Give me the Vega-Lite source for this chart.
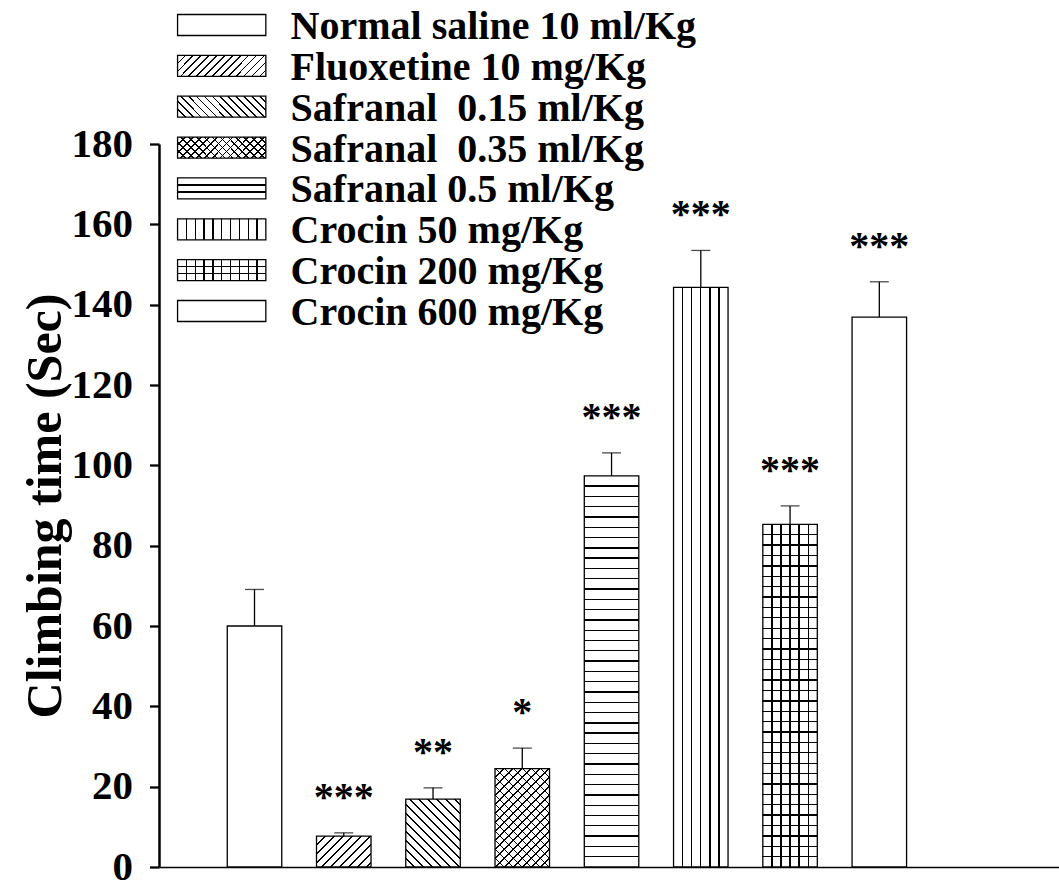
{
  "$schema": "https://vega.github.io/schema/vega-lite/v6.json",
  "width": 900,
  "height": 723,
  "autosize": {"type": "none"},
  "padding": {"left": 159, "top": 144, "right": 0, "bottom": 17},
  "background": "white",
  "config": {"view": {"stroke": null}, "font": "Liberation Serif"},
  "data": {
    "values": [
      {"pos": 1, "label": "Normal saline 10 ml/Kg", "mean": 60, "upper": 69.1, "sig": ""},
      {"pos": 2, "label": "Fluoxetine 10 mg/Kg", "mean": 7.7, "upper": 8.5, "sig": "***"},
      {"pos": 3, "label": "Safranal\u00a0 0.15 ml/Kg", "mean": 16.9, "upper": 19.7, "sig": "**"},
      {"pos": 4, "label": "Safranal\u00a0 0.35 ml/Kg", "mean": 24.5, "upper": 29.6, "sig": "*"},
      {"pos": 5, "label": "Safranal 0.5 ml/Kg", "mean": 97.4, "upper": 103.1, "sig": "***"},
      {"pos": 6, "label": "Crocin 50 mg/Kg", "mean": 144.3, "upper": 153.5, "sig": "***"},
      {"pos": 7, "label": "Crocin 200 mg/Kg", "mean": 85.3, "upper": 89.9, "sig": "***"},
      {"pos": 8, "label": "Crocin 600 mg/Kg", "mean": 136.9, "upper": 145.7, "sig": "***"}
    ]
  },
  "layer": [
    {
      "encoding": {
        "x": {
          "field": "pos", "type": "quantitative",
          "scale": {"domain": [-0.014, 9.957], "nice": false, "zero": false},
          "axis": {"title": null, "labels": false, "ticks": false, "grid": false, "domainColor": "black", "domainWidth": 1.7}
        },
        "y": {
          "field": "mean", "type": "quantitative",
          "scale": {"domain": [0, 180], "nice": false},
          "axis": {
            "values": [0, 20, 40, 60, 80, 100, 120, 140, 160, 180],
            "grid": false, "labelFlush": false, "labelOverlap": false,
            "domainColor": "black", "domainWidth": 2.5,
            "tickColor": "black", "tickWidth": 2.3, "tickSize": 9.5,
            "labelFont": "Liberation Serif", "labelFontWeight": "bold", "labelFontSize": 41, "labelColor": "black", "labelPadding": 17,
            "title": "Climbing time (Sec)", "titleFont": "Liberation Serif", "titleFontWeight": "bold", "titleFontSize": 50, "titleColor": "black",
            "titleX": -89
          }
        }
      },
      "layer": [
        {"mark": {"type": "bar", "orient": "vertical", "width": 54.5, "fill": "white", "stroke": "black", "strokeWidth": 1.3}},
        {
          "mark": {"type": "bar", "orient": "vertical", "width": 54.5, "strokeWidth": 0},
          "encoding": {
            "fill": {
              "condition": [
                {"test": "datum.pos === 2", "value": {"gradient": "linear", "x1": 0, "y1": 0, "x2": 1.1858, "y2": 0.6723, "stops": [
                  {"offset": 0.0954, "color": "transparent"}, {"offset": 0.0954, "color": "black"}, {"offset": 0.1154, "color": "black"}, {"offset": 0.1154, "color": "transparent"},
                  {"offset": 0.2008, "color": "transparent"}, {"offset": 0.2008, "color": "black"}, {"offset": 0.2208, "color": "black"}, {"offset": 0.2208, "color": "transparent"},
                  {"offset": 0.3062, "color": "transparent"}, {"offset": 0.3062, "color": "black"}, {"offset": 0.3262, "color": "black"}, {"offset": 0.3262, "color": "transparent"},
                  {"offset": 0.4116, "color": "transparent"}, {"offset": 0.4116, "color": "black"}, {"offset": 0.4316, "color": "black"}, {"offset": 0.4316, "color": "transparent"},
                  {"offset": 0.517, "color": "transparent"}, {"offset": 0.517, "color": "black"}, {"offset": 0.537, "color": "black"}, {"offset": 0.537, "color": "transparent"},
                  {"offset": 0.6224, "color": "transparent"}, {"offset": 0.6224, "color": "black"}, {"offset": 0.6424, "color": "black"}, {"offset": 0.6424, "color": "transparent"},
                  {"offset": 0.7278, "color": "transparent"}, {"offset": 0.7278, "color": "black"}, {"offset": 0.7478, "color": "black"}, {"offset": 0.7478, "color": "transparent"},
                  {"offset": 0.8332, "color": "transparent"}, {"offset": 0.8332, "color": "black"}, {"offset": 0.8532, "color": "black"}, {"offset": 0.8532, "color": "transparent"},
                  {"offset": 0.9386, "color": "transparent"}, {"offset": 0.9386, "color": "black"}, {"offset": 0.9586, "color": "black"}, {"offset": 0.9586, "color": "transparent"}
                ]}},
                {"test": "datum.pos === 3", "value": {"gradient": "linear", "x1": 0, "y1": 1, "x2": 0.88, "y2": -0.0964, "stops": [
                  {"offset": 0.0665, "color": "transparent"}, {"offset": 0.0665, "color": "black"}, {"offset": 0.0805, "color": "black"}, {"offset": 0.0805, "color": "transparent"},
                  {"offset": 0.1401, "color": "transparent"}, {"offset": 0.1401, "color": "black"}, {"offset": 0.1541, "color": "black"}, {"offset": 0.1541, "color": "transparent"},
                  {"offset": 0.2136, "color": "transparent"}, {"offset": 0.2136, "color": "black"}, {"offset": 0.2276, "color": "black"}, {"offset": 0.2276, "color": "transparent"},
                  {"offset": 0.2871, "color": "transparent"}, {"offset": 0.2871, "color": "black"}, {"offset": 0.3011, "color": "black"}, {"offset": 0.3011, "color": "transparent"},
                  {"offset": 0.3606, "color": "transparent"}, {"offset": 0.3606, "color": "black"}, {"offset": 0.3746, "color": "black"}, {"offset": 0.3746, "color": "transparent"},
                  {"offset": 0.4342, "color": "transparent"}, {"offset": 0.4342, "color": "black"}, {"offset": 0.4482, "color": "black"}, {"offset": 0.4482, "color": "transparent"},
                  {"offset": 0.5077, "color": "transparent"}, {"offset": 0.5077, "color": "black"}, {"offset": 0.5217, "color": "black"}, {"offset": 0.5217, "color": "transparent"},
                  {"offset": 0.5812, "color": "transparent"}, {"offset": 0.5812, "color": "black"}, {"offset": 0.5952, "color": "black"}, {"offset": 0.5952, "color": "transparent"},
                  {"offset": 0.6548, "color": "transparent"}, {"offset": 0.6548, "color": "black"}, {"offset": 0.6688, "color": "black"}, {"offset": 0.6688, "color": "transparent"},
                  {"offset": 0.7283, "color": "transparent"}, {"offset": 0.7283, "color": "black"}, {"offset": 0.7423, "color": "black"}, {"offset": 0.7423, "color": "transparent"},
                  {"offset": 0.8018, "color": "transparent"}, {"offset": 0.8018, "color": "black"}, {"offset": 0.8158, "color": "black"}, {"offset": 0.8158, "color": "transparent"},
                  {"offset": 0.8754, "color": "transparent"}, {"offset": 0.8754, "color": "black"}, {"offset": 0.8894, "color": "black"}, {"offset": 0.8894, "color": "transparent"},
                  {"offset": 0.9489, "color": "transparent"}, {"offset": 0.9489, "color": "black"}, {"offset": 0.9629, "color": "black"}, {"offset": 0.9629, "color": "transparent"}
                ]}},
                {"test": "datum.pos === 4", "value": {"gradient": "linear", "x1": 0, "y1": 0, "x2": 0.6586, "y2": 1.1891, "stops": [
                  {"offset": 0.0533, "color": "transparent"}, {"offset": 0.0533, "color": "black"}, {"offset": 0.0645, "color": "black"}, {"offset": 0.0645, "color": "transparent"},
                  {"offset": 0.1121, "color": "transparent"}, {"offset": 0.1121, "color": "black"}, {"offset": 0.1233, "color": "black"}, {"offset": 0.1233, "color": "transparent"},
                  {"offset": 0.171, "color": "transparent"}, {"offset": 0.171, "color": "black"}, {"offset": 0.1822, "color": "black"}, {"offset": 0.1822, "color": "transparent"},
                  {"offset": 0.2298, "color": "transparent"}, {"offset": 0.2298, "color": "black"}, {"offset": 0.241, "color": "black"}, {"offset": 0.241, "color": "transparent"},
                  {"offset": 0.2887, "color": "transparent"}, {"offset": 0.2887, "color": "black"}, {"offset": 0.2999, "color": "black"}, {"offset": 0.2999, "color": "transparent"},
                  {"offset": 0.3476, "color": "transparent"}, {"offset": 0.3476, "color": "black"}, {"offset": 0.3588, "color": "black"}, {"offset": 0.3588, "color": "transparent"},
                  {"offset": 0.4064, "color": "transparent"}, {"offset": 0.4064, "color": "black"}, {"offset": 0.4176, "color": "black"}, {"offset": 0.4176, "color": "transparent"},
                  {"offset": 0.4653, "color": "transparent"}, {"offset": 0.4653, "color": "black"}, {"offset": 0.4765, "color": "black"}, {"offset": 0.4765, "color": "transparent"},
                  {"offset": 0.5241, "color": "transparent"}, {"offset": 0.5241, "color": "black"}, {"offset": 0.5353, "color": "black"}, {"offset": 0.5353, "color": "transparent"},
                  {"offset": 0.583, "color": "transparent"}, {"offset": 0.583, "color": "black"}, {"offset": 0.5942, "color": "black"}, {"offset": 0.5942, "color": "transparent"},
                  {"offset": 0.6419, "color": "transparent"}, {"offset": 0.6419, "color": "black"}, {"offset": 0.6531, "color": "black"}, {"offset": 0.6531, "color": "transparent"},
                  {"offset": 0.7007, "color": "transparent"}, {"offset": 0.7007, "color": "black"}, {"offset": 0.7119, "color": "black"}, {"offset": 0.7119, "color": "transparent"},
                  {"offset": 0.7596, "color": "transparent"}, {"offset": 0.7596, "color": "black"}, {"offset": 0.7708, "color": "black"}, {"offset": 0.7708, "color": "transparent"},
                  {"offset": 0.8184, "color": "transparent"}, {"offset": 0.8184, "color": "black"}, {"offset": 0.8296, "color": "black"}, {"offset": 0.8296, "color": "transparent"},
                  {"offset": 0.8773, "color": "transparent"}, {"offset": 0.8773, "color": "black"}, {"offset": 0.8885, "color": "black"}, {"offset": 0.8885, "color": "transparent"},
                  {"offset": 0.9362, "color": "transparent"}, {"offset": 0.9362, "color": "black"}, {"offset": 0.9474, "color": "black"}, {"offset": 0.9474, "color": "transparent"}
                ]}},
                {"test": "datum.pos === 5", "value": {"gradient": "linear", "x1": 0, "y1": 0, "x2": 0, "y2": 1, "stops": [
                  {"offset": 0.0246, "color": "transparent"}, {"offset": 0.0246, "color": "black"}, {"offset": 0.028, "color": "black"}, {"offset": 0.028, "color": "transparent"},
                  {"offset": 0.0509, "color": "transparent"}, {"offset": 0.0509, "color": "black"}, {"offset": 0.0543, "color": "black"}, {"offset": 0.0543, "color": "transparent"},
                  {"offset": 0.0773, "color": "transparent"}, {"offset": 0.0773, "color": "black"}, {"offset": 0.0807, "color": "black"}, {"offset": 0.0807, "color": "transparent"},
                  {"offset": 0.1036, "color": "transparent"}, {"offset": 0.1036, "color": "black"}, {"offset": 0.107, "color": "black"}, {"offset": 0.107, "color": "transparent"},
                  {"offset": 0.1299, "color": "transparent"}, {"offset": 0.1299, "color": "black"}, {"offset": 0.1333, "color": "black"}, {"offset": 0.1333, "color": "transparent"},
                  {"offset": 0.1562, "color": "transparent"}, {"offset": 0.1562, "color": "black"}, {"offset": 0.1596, "color": "black"}, {"offset": 0.1596, "color": "transparent"},
                  {"offset": 0.1825, "color": "transparent"}, {"offset": 0.1825, "color": "black"}, {"offset": 0.1859, "color": "black"}, {"offset": 0.1859, "color": "transparent"},
                  {"offset": 0.2088, "color": "transparent"}, {"offset": 0.2088, "color": "black"}, {"offset": 0.2122, "color": "black"}, {"offset": 0.2122, "color": "transparent"},
                  {"offset": 0.2351, "color": "transparent"}, {"offset": 0.2351, "color": "black"}, {"offset": 0.2385, "color": "black"}, {"offset": 0.2385, "color": "transparent"},
                  {"offset": 0.2615, "color": "transparent"}, {"offset": 0.2615, "color": "black"}, {"offset": 0.2649, "color": "black"}, {"offset": 0.2649, "color": "transparent"},
                  {"offset": 0.2878, "color": "transparent"}, {"offset": 0.2878, "color": "black"}, {"offset": 0.2912, "color": "black"}, {"offset": 0.2912, "color": "transparent"},
                  {"offset": 0.3141, "color": "transparent"}, {"offset": 0.3141, "color": "black"}, {"offset": 0.3175, "color": "black"}, {"offset": 0.3175, "color": "transparent"},
                  {"offset": 0.3404, "color": "transparent"}, {"offset": 0.3404, "color": "black"}, {"offset": 0.3438, "color": "black"}, {"offset": 0.3438, "color": "transparent"},
                  {"offset": 0.3667, "color": "transparent"}, {"offset": 0.3667, "color": "black"}, {"offset": 0.3701, "color": "black"}, {"offset": 0.3701, "color": "transparent"},
                  {"offset": 0.393, "color": "transparent"}, {"offset": 0.393, "color": "black"}, {"offset": 0.3964, "color": "black"}, {"offset": 0.3964, "color": "transparent"},
                  {"offset": 0.4194, "color": "transparent"}, {"offset": 0.4194, "color": "black"}, {"offset": 0.4228, "color": "black"}, {"offset": 0.4228, "color": "transparent"},
                  {"offset": 0.4457, "color": "transparent"}, {"offset": 0.4457, "color": "black"}, {"offset": 0.4491, "color": "black"}, {"offset": 0.4491, "color": "transparent"},
                  {"offset": 0.472, "color": "transparent"}, {"offset": 0.472, "color": "black"}, {"offset": 0.4754, "color": "black"}, {"offset": 0.4754, "color": "transparent"},
                  {"offset": 0.4983, "color": "transparent"}, {"offset": 0.4983, "color": "black"}, {"offset": 0.5017, "color": "black"}, {"offset": 0.5017, "color": "transparent"},
                  {"offset": 0.5246, "color": "transparent"}, {"offset": 0.5246, "color": "black"}, {"offset": 0.528, "color": "black"}, {"offset": 0.528, "color": "transparent"},
                  {"offset": 0.5509, "color": "transparent"}, {"offset": 0.5509, "color": "black"}, {"offset": 0.5543, "color": "black"}, {"offset": 0.5543, "color": "transparent"},
                  {"offset": 0.5773, "color": "transparent"}, {"offset": 0.5773, "color": "black"}, {"offset": 0.5807, "color": "black"}, {"offset": 0.5807, "color": "transparent"},
                  {"offset": 0.6036, "color": "transparent"}, {"offset": 0.6036, "color": "black"}, {"offset": 0.607, "color": "black"}, {"offset": 0.607, "color": "transparent"},
                  {"offset": 0.6299, "color": "transparent"}, {"offset": 0.6299, "color": "black"}, {"offset": 0.6333, "color": "black"}, {"offset": 0.6333, "color": "transparent"},
                  {"offset": 0.6562, "color": "transparent"}, {"offset": 0.6562, "color": "black"}, {"offset": 0.6596, "color": "black"}, {"offset": 0.6596, "color": "transparent"},
                  {"offset": 0.6825, "color": "transparent"}, {"offset": 0.6825, "color": "black"}, {"offset": 0.6859, "color": "black"}, {"offset": 0.6859, "color": "transparent"},
                  {"offset": 0.7088, "color": "transparent"}, {"offset": 0.7088, "color": "black"}, {"offset": 0.7122, "color": "black"}, {"offset": 0.7122, "color": "transparent"},
                  {"offset": 0.7351, "color": "transparent"}, {"offset": 0.7351, "color": "black"}, {"offset": 0.7385, "color": "black"}, {"offset": 0.7385, "color": "transparent"},
                  {"offset": 0.7615, "color": "transparent"}, {"offset": 0.7615, "color": "black"}, {"offset": 0.7649, "color": "black"}, {"offset": 0.7649, "color": "transparent"},
                  {"offset": 0.7878, "color": "transparent"}, {"offset": 0.7878, "color": "black"}, {"offset": 0.7912, "color": "black"}, {"offset": 0.7912, "color": "transparent"},
                  {"offset": 0.8141, "color": "transparent"}, {"offset": 0.8141, "color": "black"}, {"offset": 0.8175, "color": "black"}, {"offset": 0.8175, "color": "transparent"},
                  {"offset": 0.8404, "color": "transparent"}, {"offset": 0.8404, "color": "black"}, {"offset": 0.8438, "color": "black"}, {"offset": 0.8438, "color": "transparent"},
                  {"offset": 0.8667, "color": "transparent"}, {"offset": 0.8667, "color": "black"}, {"offset": 0.8701, "color": "black"}, {"offset": 0.8701, "color": "transparent"},
                  {"offset": 0.893, "color": "transparent"}, {"offset": 0.893, "color": "black"}, {"offset": 0.8964, "color": "black"}, {"offset": 0.8964, "color": "transparent"},
                  {"offset": 0.9194, "color": "transparent"}, {"offset": 0.9194, "color": "black"}, {"offset": 0.9228, "color": "black"}, {"offset": 0.9228, "color": "transparent"},
                  {"offset": 0.9457, "color": "transparent"}, {"offset": 0.9457, "color": "black"}, {"offset": 0.9491, "color": "black"}, {"offset": 0.9491, "color": "transparent"},
                  {"offset": 0.972, "color": "transparent"}, {"offset": 0.972, "color": "black"}, {"offset": 0.9754, "color": "black"}, {"offset": 0.9754, "color": "transparent"}
                ]}},
                {"test": "datum.pos === 6 || datum.pos === 7", "value": {"gradient": "linear", "x1": 0, "y1": 0, "x2": 1, "y2": 0, "stops": [
                  {"offset": 0.1547, "color": "transparent"}, {"offset": 0.1547, "color": "black"}, {"offset": 0.1787, "color": "black"}, {"offset": 0.1787, "color": "transparent"},
                  {"offset": 0.3213, "color": "transparent"}, {"offset": 0.3213, "color": "black"}, {"offset": 0.3453, "color": "black"}, {"offset": 0.3453, "color": "transparent"},
                  {"offset": 0.488, "color": "transparent"}, {"offset": 0.488, "color": "black"}, {"offset": 0.512, "color": "black"}, {"offset": 0.512, "color": "transparent"},
                  {"offset": 0.6547, "color": "transparent"}, {"offset": 0.6547, "color": "black"}, {"offset": 0.6787, "color": "black"}, {"offset": 0.6787, "color": "transparent"},
                  {"offset": 0.8213, "color": "transparent"}, {"offset": 0.8213, "color": "black"}, {"offset": 0.8453, "color": "black"}, {"offset": 0.8453, "color": "transparent"}
                ]}}
              ],
              "value": "transparent"
            }
          }
        },
        {
          "mark": {"type": "bar", "orient": "vertical", "width": 54.5, "strokeWidth": 0},
          "encoding": {
            "fill": {
              "condition": [
                {"test": "datum.pos === 4", "value": {"gradient": "linear", "x1": 0, "y1": 1, "x2": 0.6586, "y2": -0.1891, "stops": [
                  {"offset": 0.0533, "color": "transparent"}, {"offset": 0.0533, "color": "black"}, {"offset": 0.0645, "color": "black"}, {"offset": 0.0645, "color": "transparent"},
                  {"offset": 0.1121, "color": "transparent"}, {"offset": 0.1121, "color": "black"}, {"offset": 0.1233, "color": "black"}, {"offset": 0.1233, "color": "transparent"},
                  {"offset": 0.171, "color": "transparent"}, {"offset": 0.171, "color": "black"}, {"offset": 0.1822, "color": "black"}, {"offset": 0.1822, "color": "transparent"},
                  {"offset": 0.2298, "color": "transparent"}, {"offset": 0.2298, "color": "black"}, {"offset": 0.241, "color": "black"}, {"offset": 0.241, "color": "transparent"},
                  {"offset": 0.2887, "color": "transparent"}, {"offset": 0.2887, "color": "black"}, {"offset": 0.2999, "color": "black"}, {"offset": 0.2999, "color": "transparent"},
                  {"offset": 0.3476, "color": "transparent"}, {"offset": 0.3476, "color": "black"}, {"offset": 0.3588, "color": "black"}, {"offset": 0.3588, "color": "transparent"},
                  {"offset": 0.4064, "color": "transparent"}, {"offset": 0.4064, "color": "black"}, {"offset": 0.4176, "color": "black"}, {"offset": 0.4176, "color": "transparent"},
                  {"offset": 0.4653, "color": "transparent"}, {"offset": 0.4653, "color": "black"}, {"offset": 0.4765, "color": "black"}, {"offset": 0.4765, "color": "transparent"},
                  {"offset": 0.5241, "color": "transparent"}, {"offset": 0.5241, "color": "black"}, {"offset": 0.5353, "color": "black"}, {"offset": 0.5353, "color": "transparent"},
                  {"offset": 0.583, "color": "transparent"}, {"offset": 0.583, "color": "black"}, {"offset": 0.5942, "color": "black"}, {"offset": 0.5942, "color": "transparent"},
                  {"offset": 0.6419, "color": "transparent"}, {"offset": 0.6419, "color": "black"}, {"offset": 0.6531, "color": "black"}, {"offset": 0.6531, "color": "transparent"},
                  {"offset": 0.7007, "color": "transparent"}, {"offset": 0.7007, "color": "black"}, {"offset": 0.7119, "color": "black"}, {"offset": 0.7119, "color": "transparent"},
                  {"offset": 0.7596, "color": "transparent"}, {"offset": 0.7596, "color": "black"}, {"offset": 0.7708, "color": "black"}, {"offset": 0.7708, "color": "transparent"},
                  {"offset": 0.8184, "color": "transparent"}, {"offset": 0.8184, "color": "black"}, {"offset": 0.8296, "color": "black"}, {"offset": 0.8296, "color": "transparent"},
                  {"offset": 0.8773, "color": "transparent"}, {"offset": 0.8773, "color": "black"}, {"offset": 0.8885, "color": "black"}, {"offset": 0.8885, "color": "transparent"},
                  {"offset": 0.9362, "color": "transparent"}, {"offset": 0.9362, "color": "black"}, {"offset": 0.9474, "color": "black"}, {"offset": 0.9474, "color": "transparent"}
                ]}},
                {"test": "datum.pos === 7", "value": {"gradient": "linear", "x1": 0, "y1": 0, "x2": 0, "y2": 1, "stops": [
                  {"offset": 0.0284, "color": "transparent"}, {"offset": 0.0284, "color": "black"}, {"offset": 0.0322, "color": "black"}, {"offset": 0.0322, "color": "transparent"},
                  {"offset": 0.0587, "color": "transparent"}, {"offset": 0.0587, "color": "black"}, {"offset": 0.0625, "color": "black"}, {"offset": 0.0625, "color": "transparent"},
                  {"offset": 0.089, "color": "transparent"}, {"offset": 0.089, "color": "black"}, {"offset": 0.0928, "color": "black"}, {"offset": 0.0928, "color": "transparent"},
                  {"offset": 0.1193, "color": "transparent"}, {"offset": 0.1193, "color": "black"}, {"offset": 0.1231, "color": "black"}, {"offset": 0.1231, "color": "transparent"},
                  {"offset": 0.1496, "color": "transparent"}, {"offset": 0.1496, "color": "black"}, {"offset": 0.1534, "color": "black"}, {"offset": 0.1534, "color": "transparent"},
                  {"offset": 0.1799, "color": "transparent"}, {"offset": 0.1799, "color": "black"}, {"offset": 0.1837, "color": "black"}, {"offset": 0.1837, "color": "transparent"},
                  {"offset": 0.2102, "color": "transparent"}, {"offset": 0.2102, "color": "black"}, {"offset": 0.214, "color": "black"}, {"offset": 0.214, "color": "transparent"},
                  {"offset": 0.2405, "color": "transparent"}, {"offset": 0.2405, "color": "black"}, {"offset": 0.2443, "color": "black"}, {"offset": 0.2443, "color": "transparent"},
                  {"offset": 0.2708, "color": "transparent"}, {"offset": 0.2708, "color": "black"}, {"offset": 0.2746, "color": "black"}, {"offset": 0.2746, "color": "transparent"},
                  {"offset": 0.3011, "color": "transparent"}, {"offset": 0.3011, "color": "black"}, {"offset": 0.3049, "color": "black"}, {"offset": 0.3049, "color": "transparent"},
                  {"offset": 0.3314, "color": "transparent"}, {"offset": 0.3314, "color": "black"}, {"offset": 0.3352, "color": "black"}, {"offset": 0.3352, "color": "transparent"},
                  {"offset": 0.3617, "color": "transparent"}, {"offset": 0.3617, "color": "black"}, {"offset": 0.3655, "color": "black"}, {"offset": 0.3655, "color": "transparent"},
                  {"offset": 0.392, "color": "transparent"}, {"offset": 0.392, "color": "black"}, {"offset": 0.3958, "color": "black"}, {"offset": 0.3958, "color": "transparent"},
                  {"offset": 0.4223, "color": "transparent"}, {"offset": 0.4223, "color": "black"}, {"offset": 0.4261, "color": "black"}, {"offset": 0.4261, "color": "transparent"},
                  {"offset": 0.4526, "color": "transparent"}, {"offset": 0.4526, "color": "black"}, {"offset": 0.4564, "color": "black"}, {"offset": 0.4564, "color": "transparent"},
                  {"offset": 0.4829, "color": "transparent"}, {"offset": 0.4829, "color": "black"}, {"offset": 0.4867, "color": "black"}, {"offset": 0.4867, "color": "transparent"},
                  {"offset": 0.5133, "color": "transparent"}, {"offset": 0.5133, "color": "black"}, {"offset": 0.5171, "color": "black"}, {"offset": 0.5171, "color": "transparent"},
                  {"offset": 0.5436, "color": "transparent"}, {"offset": 0.5436, "color": "black"}, {"offset": 0.5474, "color": "black"}, {"offset": 0.5474, "color": "transparent"},
                  {"offset": 0.5739, "color": "transparent"}, {"offset": 0.5739, "color": "black"}, {"offset": 0.5777, "color": "black"}, {"offset": 0.5777, "color": "transparent"},
                  {"offset": 0.6042, "color": "transparent"}, {"offset": 0.6042, "color": "black"}, {"offset": 0.608, "color": "black"}, {"offset": 0.608, "color": "transparent"},
                  {"offset": 0.6345, "color": "transparent"}, {"offset": 0.6345, "color": "black"}, {"offset": 0.6383, "color": "black"}, {"offset": 0.6383, "color": "transparent"},
                  {"offset": 0.6648, "color": "transparent"}, {"offset": 0.6648, "color": "black"}, {"offset": 0.6686, "color": "black"}, {"offset": 0.6686, "color": "transparent"},
                  {"offset": 0.6951, "color": "transparent"}, {"offset": 0.6951, "color": "black"}, {"offset": 0.6989, "color": "black"}, {"offset": 0.6989, "color": "transparent"},
                  {"offset": 0.7254, "color": "transparent"}, {"offset": 0.7254, "color": "black"}, {"offset": 0.7292, "color": "black"}, {"offset": 0.7292, "color": "transparent"},
                  {"offset": 0.7557, "color": "transparent"}, {"offset": 0.7557, "color": "black"}, {"offset": 0.7595, "color": "black"}, {"offset": 0.7595, "color": "transparent"},
                  {"offset": 0.786, "color": "transparent"}, {"offset": 0.786, "color": "black"}, {"offset": 0.7898, "color": "black"}, {"offset": 0.7898, "color": "transparent"},
                  {"offset": 0.8163, "color": "transparent"}, {"offset": 0.8163, "color": "black"}, {"offset": 0.8201, "color": "black"}, {"offset": 0.8201, "color": "transparent"},
                  {"offset": 0.8466, "color": "transparent"}, {"offset": 0.8466, "color": "black"}, {"offset": 0.8504, "color": "black"}, {"offset": 0.8504, "color": "transparent"},
                  {"offset": 0.8769, "color": "transparent"}, {"offset": 0.8769, "color": "black"}, {"offset": 0.8807, "color": "black"}, {"offset": 0.8807, "color": "transparent"},
                  {"offset": 0.9072, "color": "transparent"}, {"offset": 0.9072, "color": "black"}, {"offset": 0.911, "color": "black"}, {"offset": 0.911, "color": "transparent"},
                  {"offset": 0.9375, "color": "transparent"}, {"offset": 0.9375, "color": "black"}, {"offset": 0.9413, "color": "black"}, {"offset": 0.9413, "color": "transparent"},
                  {"offset": 0.9678, "color": "transparent"}, {"offset": 0.9678, "color": "black"}, {"offset": 0.9716, "color": "black"}, {"offset": 0.9716, "color": "transparent"}
                ]}}
              ],
              "value": "transparent"
            }
          }
        },
        {
          "mark": {"type": "rule", "color": "black", "strokeWidth": 1.3},
          "encoding": {"y2": {"field": "upper"}}
        },
        {
          "mark": {"type": "tick", "orient": "horizontal", "size": 19, "thickness": 1.3, "color": "black"},
          "encoding": {"y": {"field": "upper", "type": "quantitative"}}
        },
        {
          "mark": {"type": "text", "font": "Liberation Serif", "fontWeight": "bold", "fontSize": 40, "color": "black", "baseline": "alphabetic", "dy": -23},
          "encoding": {
            "y": {"field": "upper", "type": "quantitative"},
            "text": {"field": "sig"}
          }
        }
      ]
    },
    {
      "encoding": {
        "y": {
          "field": "label", "type": "nominal",
          "scale": {
            "type": "point", "padding": 0, "range": [-119, 167],
            "domain": ["Normal saline 10 ml/Kg", "Fluoxetine 10 mg/Kg", "Safranal\u00a0 0.15 ml/Kg", "Safranal\u00a0 0.35 ml/Kg", "Safranal 0.5 ml/Kg", "Crocin 50 mg/Kg", "Crocin 200 mg/Kg", "Crocin 600 mg/Kg"]
          },
          "axis": null
        }
      },
      "layer": [
        {
          "mark": {"type": "bar", "orient": "horizontal", "height": 21, "fill": "white", "stroke": "black", "strokeWidth": 1.3},
          "encoding": {"x": {"datum": 0.138, "type": "quantitative"}, "x2": {"datum": 1.127}}
        },
        {
          "mark": {"type": "bar", "orient": "horizontal", "height": 21, "strokeWidth": 0},
          "encoding": {
            "x": {"datum": 0.138, "type": "quantitative"}, "x2": {"datum": 1.127},
            "fill": {
              "condition": [
                {"test": "datum.pos === 2 || datum.pos === 4", "value": {"gradient": "linear", "x1": 0, "y1": 0, "x2": 1.1704, "y2": 0.2752, "stops": [
                  {"offset": 0.0648, "color": "transparent"}, {"offset": 0.0648, "color": "black"}, {"offset": 0.0802, "color": "black"}, {"offset": 0.0802, "color": "transparent"},
                  {"offset": 0.1373, "color": "transparent"}, {"offset": 0.1373, "color": "black"}, {"offset": 0.1527, "color": "black"}, {"offset": 0.1527, "color": "transparent"},
                  {"offset": 0.2098, "color": "transparent"}, {"offset": 0.2098, "color": "black"}, {"offset": 0.2252, "color": "black"}, {"offset": 0.2252, "color": "transparent"},
                  {"offset": 0.2823, "color": "transparent"}, {"offset": 0.2823, "color": "black"}, {"offset": 0.2977, "color": "black"}, {"offset": 0.2977, "color": "transparent"},
                  {"offset": 0.3548, "color": "transparent"}, {"offset": 0.3548, "color": "black"}, {"offset": 0.3702, "color": "black"}, {"offset": 0.3702, "color": "transparent"},
                  {"offset": 0.4273, "color": "transparent"}, {"offset": 0.4273, "color": "black"}, {"offset": 0.4427, "color": "black"}, {"offset": 0.4427, "color": "transparent"},
                  {"offset": 0.4998, "color": "transparent"}, {"offset": 0.4998, "color": "black"}, {"offset": 0.5152, "color": "black"}, {"offset": 0.5152, "color": "transparent"},
                  {"offset": 0.5723, "color": "transparent"}, {"offset": 0.5723, "color": "black"}, {"offset": 0.5877, "color": "black"}, {"offset": 0.5877, "color": "transparent"},
                  {"offset": 0.6448, "color": "transparent"}, {"offset": 0.6448, "color": "black"}, {"offset": 0.6602, "color": "black"}, {"offset": 0.6602, "color": "transparent"},
                  {"offset": 0.7173, "color": "transparent"}, {"offset": 0.7173, "color": "black"}, {"offset": 0.7327, "color": "black"}, {"offset": 0.7327, "color": "transparent"},
                  {"offset": 0.7898, "color": "transparent"}, {"offset": 0.7898, "color": "black"}, {"offset": 0.8052, "color": "black"}, {"offset": 0.8052, "color": "transparent"},
                  {"offset": 0.8623, "color": "transparent"}, {"offset": 0.8623, "color": "black"}, {"offset": 0.8777, "color": "black"}, {"offset": 0.8777, "color": "transparent"},
                  {"offset": 0.9348, "color": "transparent"}, {"offset": 0.9348, "color": "black"}, {"offset": 0.9502, "color": "black"}, {"offset": 0.9502, "color": "transparent"}
                ]}},
                {"test": "datum.pos === 3", "value": {"gradient": "linear", "x1": 0, "y1": 1, "x2": 1.1704, "y2": 0.7248, "stops": [
                  {"offset": 0.0648, "color": "transparent"}, {"offset": 0.0648, "color": "black"}, {"offset": 0.0802, "color": "black"}, {"offset": 0.0802, "color": "transparent"},
                  {"offset": 0.1373, "color": "transparent"}, {"offset": 0.1373, "color": "black"}, {"offset": 0.1527, "color": "black"}, {"offset": 0.1527, "color": "transparent"},
                  {"offset": 0.2098, "color": "transparent"}, {"offset": 0.2098, "color": "black"}, {"offset": 0.2252, "color": "black"}, {"offset": 0.2252, "color": "transparent"},
                  {"offset": 0.2823, "color": "transparent"}, {"offset": 0.2823, "color": "black"}, {"offset": 0.2977, "color": "black"}, {"offset": 0.2977, "color": "transparent"},
                  {"offset": 0.3548, "color": "transparent"}, {"offset": 0.3548, "color": "black"}, {"offset": 0.3702, "color": "black"}, {"offset": 0.3702, "color": "transparent"},
                  {"offset": 0.4273, "color": "transparent"}, {"offset": 0.4273, "color": "black"}, {"offset": 0.4427, "color": "black"}, {"offset": 0.4427, "color": "transparent"},
                  {"offset": 0.4998, "color": "transparent"}, {"offset": 0.4998, "color": "black"}, {"offset": 0.5152, "color": "black"}, {"offset": 0.5152, "color": "transparent"},
                  {"offset": 0.5723, "color": "transparent"}, {"offset": 0.5723, "color": "black"}, {"offset": 0.5877, "color": "black"}, {"offset": 0.5877, "color": "transparent"},
                  {"offset": 0.6448, "color": "transparent"}, {"offset": 0.6448, "color": "black"}, {"offset": 0.6602, "color": "black"}, {"offset": 0.6602, "color": "transparent"},
                  {"offset": 0.7173, "color": "transparent"}, {"offset": 0.7173, "color": "black"}, {"offset": 0.7327, "color": "black"}, {"offset": 0.7327, "color": "transparent"},
                  {"offset": 0.7898, "color": "transparent"}, {"offset": 0.7898, "color": "black"}, {"offset": 0.8052, "color": "black"}, {"offset": 0.8052, "color": "transparent"},
                  {"offset": 0.8623, "color": "transparent"}, {"offset": 0.8623, "color": "black"}, {"offset": 0.8777, "color": "black"}, {"offset": 0.8777, "color": "transparent"},
                  {"offset": 0.9348, "color": "transparent"}, {"offset": 0.9348, "color": "black"}, {"offset": 0.9502, "color": "black"}, {"offset": 0.9502, "color": "transparent"}
                ]}},
                {"test": "datum.pos === 5", "value": {"gradient": "linear", "x1": 0, "y1": 0, "x2": 0, "y2": 1, "stops": [
                  {"offset": 0.3023, "color": "transparent"}, {"offset": 0.3023, "color": "black"}, {"offset": 0.3643, "color": "black"}, {"offset": 0.3643, "color": "transparent"},
                  {"offset": 0.6357, "color": "transparent"}, {"offset": 0.6357, "color": "black"}, {"offset": 0.6977, "color": "black"}, {"offset": 0.6977, "color": "transparent"}
                ]}},
                {"test": "datum.pos === 6 || datum.pos === 7", "value": {"gradient": "linear", "x1": 0, "y1": 0, "x2": 1, "y2": 0, "stops": [
                  {"offset": 0.0927, "color": "transparent"}, {"offset": 0.0927, "color": "black"}, {"offset": 0.1073, "color": "black"}, {"offset": 0.1073, "color": "transparent"},
                  {"offset": 0.1927, "color": "transparent"}, {"offset": 0.1927, "color": "black"}, {"offset": 0.2073, "color": "black"}, {"offset": 0.2073, "color": "transparent"},
                  {"offset": 0.2927, "color": "transparent"}, {"offset": 0.2927, "color": "black"}, {"offset": 0.3073, "color": "black"}, {"offset": 0.3073, "color": "transparent"},
                  {"offset": 0.3927, "color": "transparent"}, {"offset": 0.3927, "color": "black"}, {"offset": 0.4073, "color": "black"}, {"offset": 0.4073, "color": "transparent"},
                  {"offset": 0.4927, "color": "transparent"}, {"offset": 0.4927, "color": "black"}, {"offset": 0.5073, "color": "black"}, {"offset": 0.5073, "color": "transparent"},
                  {"offset": 0.5927, "color": "transparent"}, {"offset": 0.5927, "color": "black"}, {"offset": 0.6073, "color": "black"}, {"offset": 0.6073, "color": "transparent"},
                  {"offset": 0.6927, "color": "transparent"}, {"offset": 0.6927, "color": "black"}, {"offset": 0.7073, "color": "black"}, {"offset": 0.7073, "color": "transparent"},
                  {"offset": 0.7927, "color": "transparent"}, {"offset": 0.7927, "color": "black"}, {"offset": 0.8073, "color": "black"}, {"offset": 0.8073, "color": "transparent"},
                  {"offset": 0.8927, "color": "transparent"}, {"offset": 0.8927, "color": "black"}, {"offset": 0.9073, "color": "black"}, {"offset": 0.9073, "color": "transparent"}
                ]}}
              ],
              "value": "transparent"
            }
          }
        },
        {
          "mark": {"type": "bar", "orient": "horizontal", "height": 21, "strokeWidth": 0},
          "encoding": {
            "x": {"datum": 0.138, "type": "quantitative"}, "x2": {"datum": 1.127},
            "fill": {
              "condition": [
                {"test": "datum.pos === 4", "value": {"gradient": "linear", "x1": 0, "y1": 1, "x2": 1.1704, "y2": 0.7248, "stops": [
                  {"offset": 0.0648, "color": "transparent"}, {"offset": 0.0648, "color": "black"}, {"offset": 0.0802, "color": "black"}, {"offset": 0.0802, "color": "transparent"},
                  {"offset": 0.1373, "color": "transparent"}, {"offset": 0.1373, "color": "black"}, {"offset": 0.1527, "color": "black"}, {"offset": 0.1527, "color": "transparent"},
                  {"offset": 0.2098, "color": "transparent"}, {"offset": 0.2098, "color": "black"}, {"offset": 0.2252, "color": "black"}, {"offset": 0.2252, "color": "transparent"},
                  {"offset": 0.2823, "color": "transparent"}, {"offset": 0.2823, "color": "black"}, {"offset": 0.2977, "color": "black"}, {"offset": 0.2977, "color": "transparent"},
                  {"offset": 0.3548, "color": "transparent"}, {"offset": 0.3548, "color": "black"}, {"offset": 0.3702, "color": "black"}, {"offset": 0.3702, "color": "transparent"},
                  {"offset": 0.4273, "color": "transparent"}, {"offset": 0.4273, "color": "black"}, {"offset": 0.4427, "color": "black"}, {"offset": 0.4427, "color": "transparent"},
                  {"offset": 0.4998, "color": "transparent"}, {"offset": 0.4998, "color": "black"}, {"offset": 0.5152, "color": "black"}, {"offset": 0.5152, "color": "transparent"},
                  {"offset": 0.5723, "color": "transparent"}, {"offset": 0.5723, "color": "black"}, {"offset": 0.5877, "color": "black"}, {"offset": 0.5877, "color": "transparent"},
                  {"offset": 0.6448, "color": "transparent"}, {"offset": 0.6448, "color": "black"}, {"offset": 0.6602, "color": "black"}, {"offset": 0.6602, "color": "transparent"},
                  {"offset": 0.7173, "color": "transparent"}, {"offset": 0.7173, "color": "black"}, {"offset": 0.7327, "color": "black"}, {"offset": 0.7327, "color": "transparent"},
                  {"offset": 0.7898, "color": "transparent"}, {"offset": 0.7898, "color": "black"}, {"offset": 0.8052, "color": "black"}, {"offset": 0.8052, "color": "transparent"},
                  {"offset": 0.8623, "color": "transparent"}, {"offset": 0.8623, "color": "black"}, {"offset": 0.8777, "color": "black"}, {"offset": 0.8777, "color": "transparent"},
                  {"offset": 0.9348, "color": "transparent"}, {"offset": 0.9348, "color": "black"}, {"offset": 0.9502, "color": "black"}, {"offset": 0.9502, "color": "transparent"}
                ]}},
                {"test": "datum.pos === 7", "value": {"gradient": "linear", "x1": 0, "y1": 0, "x2": 0, "y2": 1, "stops": [
                  {"offset": 0.3023, "color": "transparent"}, {"offset": 0.3023, "color": "black"}, {"offset": 0.3643, "color": "black"}, {"offset": 0.3643, "color": "transparent"},
                  {"offset": 0.6357, "color": "transparent"}, {"offset": 0.6357, "color": "black"}, {"offset": 0.6977, "color": "black"}, {"offset": 0.6977, "color": "transparent"}
                ]}}
              ],
              "value": "transparent"
            }
          }
        },
        {
          "mark": {"type": "text", "align": "left", "baseline": "middle", "dy": 2, "font": "Liberation Serif", "fontWeight": "bold", "fontSize": 40, "color": "black"},
          "encoding": {
            "x": {"datum": 1.404, "type": "quantitative"},
            "text": {"field": "label"}
          }
        }
      ]
    }
  ],
  "resolve": {"scale": {"y": "independent"}, "axis": {"y": "independent"}}
}
